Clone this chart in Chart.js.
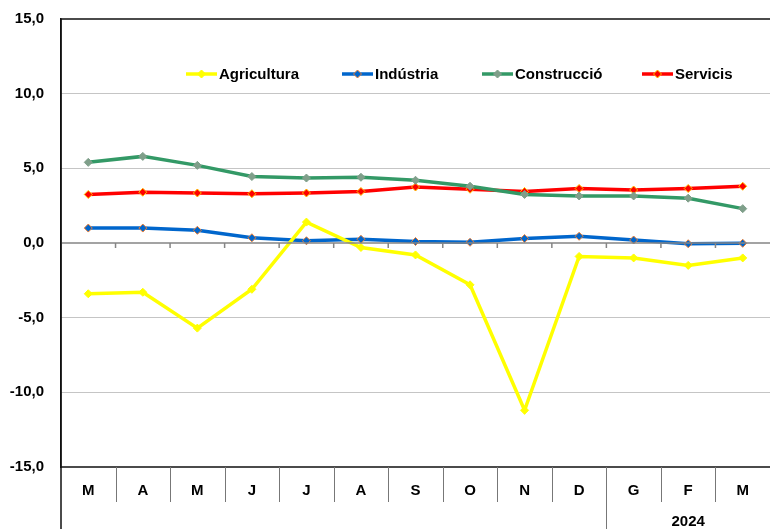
<!DOCTYPE html>
<html>
<head>
<meta charset="utf-8">
<script src="https://cdn.jsdelivr.net/npm/chart.js@4.4.1/dist/chart.umd.min.js"></script>
<style>
  html, body { margin: 0; padding: 0; background: #fff; }
  #wrap { width: 771px; height: 529px; }
</style>
</head>
<body>
<div id="wrap"><canvas id="myChart" width="771" height="529"></canvas></div>
<script>
// mesos (de març a març)
const months = ["M", "A", "M", "J", "J", "A", "S", "O", "N", "D", "G", "F", "M"];
const yearLabel = "2024";
const yearStart = 10; // el 2024 comença a G

const agricultura = [-3.4, -3.3, -5.7, -3.1, 1.4, -0.3, -0.8, -2.8, -11.2, -0.9, -1.0, -1.5, -1.0];
const industria = [1.0, 1.0, 0.85, 0.35, 0.15, 0.25, 0.1, 0.05, 0.3, 0.45, 0.2, -0.05, -0.02];
const construccio = [5.4, 5.8, 5.2, 4.45, 4.35, 4.4, 4.2, 3.8, 3.25, 3.15, 3.15, 3.0, 2.3];
const servicis = [3.25, 3.4, 3.35, 3.3, 3.35, 3.45, 3.75, 3.6, 3.45, 3.65, 3.55, 3.65, 3.8];

const yTicks = [-15, -10, -5, 0, 5, 10, 15];

const font = "Liberation Sans";

function serie(label, data, color, pointFill, pointBorder) {
  return {
    label: label,
    data: data,
    borderColor: color,
    backgroundColor: color,
    borderWidth: 3.5,
    pointStyle: "rectRot",
    pointRadius: 4,
    pointBackgroundColor: pointFill,
    pointBorderColor: pointBorder,
    pointBorderWidth: 1,
    tension: 0,
  };
}

// llegenda dins l'àrea del gràfic + taula de mesos a sota
const extras = {
  id: "extras",
  afterDatasetsDraw(chart) {
    const c = chart.ctx;
    const area = chart.chartArea;
    const x = chart.scales.x;
    const y = chart.scales.y;
    const step = x.getPixelForValue(1) - x.getPixelForValue(0);
    const y0 = y.getPixelForValue(0);

    c.save();
    // línia del zero amb marques
    c.strokeStyle = "#858585";
    c.lineWidth = 1.5;
    c.beginPath();
    c.moveTo(area.left, y0);
    c.lineTo(area.right, y0);
    for (let i = 1; i < months.length; i++) {
      const bx = x.getPixelForValue(i) - step / 2;
      c.moveTo(bx, y0);
      c.lineTo(bx, y0 + 5);
    }
    c.stroke();

    // vores superior i inferior
    c.strokeStyle = "#111";
    c.lineWidth = 1.5;
    c.beginPath();
    c.moveTo(area.left, area.top);
    c.lineTo(area.right, area.top);
    c.moveTo(area.left, area.bottom);
    c.lineTo(area.right, area.bottom);
    c.moveTo(area.left, area.top);
    c.lineTo(area.left, chart.height);
    c.stroke();

    // separadors de la taula
    c.strokeStyle = "#777";
    c.lineWidth = 1;
    c.beginPath();
    for (let i = 1; i < months.length; i++) {
      const bx = Math.round(x.getPixelForValue(i) - step / 2) + 0.5;
      c.moveTo(bx, area.bottom);
      c.lineTo(bx, i === yearStart ? chart.height : area.bottom + 35);
    }
    c.stroke();

    c.fillStyle = "#000";
    c.font = "bold 15px '" + font + "'";
    c.textAlign = "center";
    c.textBaseline = "middle";
    months.forEach((m, i) => c.fillText(m, x.getPixelForValue(i), area.bottom + 24));
    const yx = (x.getPixelForValue(yearStart) + x.getPixelForValue(months.length - 1)) / 2;
    c.fillText(yearLabel, yx, area.bottom + 55);

    // llegenda
    const legendX = [186, 342, 482, 642];
    const ly = 74;
    c.textAlign = "left";
    chart.data.datasets.forEach((ds, i) => {
      const lx = legendX[i];
      c.strokeStyle = ds.borderColor;
      c.lineWidth = 3.5;
      c.beginPath();
      c.moveTo(lx, ly);
      c.lineTo(lx + 31, ly);
      c.stroke();
      c.fillStyle = ds.pointBackgroundColor;
      c.strokeStyle = ds.pointBorderColor;
      c.lineWidth = 1;
      c.beginPath();
      c.moveTo(lx + 15.5, ly - 4);
      c.lineTo(lx + 19.5, ly);
      c.lineTo(lx + 15.5, ly + 4);
      c.lineTo(lx + 11.5, ly);
      c.closePath();
      c.fill();
      c.stroke();
      c.fillStyle = "#000";
      c.fillText(ds.label, lx + 33, ly + 1);
    });
    c.restore();
  },
};

const ctx = document.getElementById("myChart");

new Chart(ctx, {
  type: "line",
  data: {
    labels: months,
    datasets: [
      serie("Agricultura", agricultura, "#FFFF00", "#FFFF00", "#FFFF00"),
      serie("Indústria", industria, "#0066CC", "#0066CC", "#ED7D31"),
      serie("Construcció", construccio, "#339966", "#7F9F8A", "#7F9F8A"),
      serie("Servicis", servicis, "#FF0000", "#FF0000", "#FFC000"),
    ],
  },
  options: {
    responsive: false,
    animation: false,
    layout: { autoPadding: false, padding: { top: 19, right: 1, bottom: 62, left: 0 } },
    plugins: {
      legend: { display: false },
      tooltip: { enabled: false },
    },
    scales: {
      x: {
        display: false,
        offset: true,
      },
      y: {
        min: -15,
        max: 15,
        afterFit(scale) {
          scale.width = 61;
          scale.paddingTop = 0;
          scale.paddingBottom = 0;
        },
        afterBuildTicks(scale) {
          scale.ticks = yTicks.map((v) => ({ value: v }));
        },
        ticks: {
          padding: 17,
          color: "#000",
          font: { family: font, size: 15, weight: "bold" },
          callback: (v) => v.toFixed(1).replace(".", ","),
        },
        grid: {
          drawTicks: false,
          color: (c) => (Math.abs(c.tick.value) === 15 || c.tick.value === 0 ? "rgba(0,0,0,0)" : "#8a8a8a"),
          lineWidth: 1,
        },
        border: {
          color: "#111",
          width: 1.5,
          dash: [1, 1],
        },
      },
    },
  },
  plugins: [extras],
});
</script>
</body>
</html>
